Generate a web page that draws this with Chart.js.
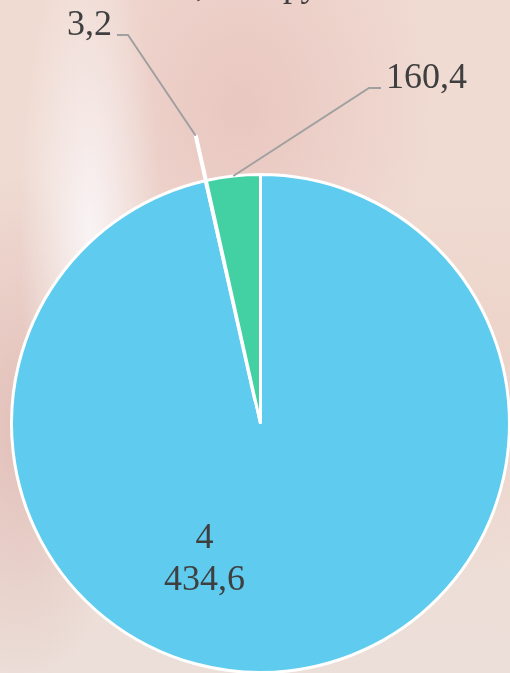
<!DOCTYPE html>
<html>
<head>
<meta charset="utf-8">
<script src="https://cdn.jsdelivr.net/npm/chart.js@4/dist/chart.umd.min.js"></script>
<style>
  html, body { margin: 0; padding: 0; }
  body {
    width: 510px; height: 673px; overflow: hidden;
    background:
      radial-gradient(ellipse 70px 300px at 90px 230px, rgba(250,246,248,0.9), rgba(250,246,248,0) 100%),
      radial-gradient(ellipse 200px 260px at 240px 110px, rgba(228,182,178,0.55), rgba(228,182,178,0) 100%),
      radial-gradient(ellipse 110px 260px at 20px 430px, rgba(216,168,164,0.55), rgba(216,168,164,0) 100%),
      radial-gradient(ellipse 220px 200px at 470px 380px, rgba(234,200,188,0.5), rgba(234,200,188,0) 100%),
      linear-gradient(180deg, #f0dbd2 0%, #efdcd3 60%, #ecdfd9 100%);
  }
  #wrap { position: relative; width: 510px; height: 673px; }
</style>
</head>
<body>
<div id="wrap"><canvas id="pieChart" width="510" height="673"></canvas></div>
<script>
let sliceLabels = ['4 434,6', '3,2', '160,4'];
let sliceValues = [4434.6, 3.2, 160.4];
let sliceColors = ['#5ecbef', '#ffffff', '#43d0a2'];
let sliceOffsets = [0, 92, 0];   // chart.js сдвигает на offset / 2
let sliceBorders = [3, 4, 3];
let titleText = 'Объём платежей, млн руб.';

const fontFamily = '"Liberation Serif", "Times New Roman", serif';
const textColor = '#3f3f3f';

// подписи и выноски
const labelPlugin = {
    id: 'pieLabels',
    afterDatasetsDraw(chart) {
        const ctx = chart.ctx;
        const arcs = chart.getDatasetMeta(0).data;
        ctx.save();
        ctx.font = '36px ' + fontFamily;
        ctx.fillStyle = textColor;

        // заголовок, обрезанный краем картинки
        ctx.textAlign = 'left';
        ctx.textBaseline = 'alphabetic';
        const head = titleText.slice(0, titleText.indexOf('руб'));
        ctx.fillText(titleText, 283 - ctx.measureText(head).width, -4);

        const cx = arcs[0].x, cy = arcs[0].y;

        // большой сектор - подпись внутри
        ctx.textAlign = 'center';
        ctx.fillText('4', cx - 56, cy + 124);
        ctx.fillText(sliceLabels[0].split(' ')[1], cx - 56, cy + 166);

        ctx.strokeStyle = '#a0a0a0';
        ctx.lineWidth = 2;

        // 3,2 - вынесенный сектор
        let a = arcs[1];
        let mid = (a.startAngle + a.endAngle) / 2;
        let r = a.outerRadius + sliceOffsets[1] / 2;
        let px = a.x + Math.cos(mid) * r, py = a.y + Math.sin(mid) * r;
        ctx.beginPath();
        ctx.moveTo(px, py);
        ctx.lineTo(128, 35);
        ctx.lineTo(117, 35);
        ctx.stroke();
        ctx.textAlign = 'right';
        ctx.fillText(sliceLabels[1], 112, 35);

        // 160,4
        a = arcs[2];
        mid = (a.startAngle + a.endAngle) / 2;
        r = a.outerRadius;
        px = a.x + Math.cos(mid) * r;
        py = a.y + Math.sin(mid) * r;
        ctx.beginPath();
        ctx.moveTo(px, py);
        ctx.lineTo(369, 88);
        ctx.lineTo(381, 88);
        ctx.stroke();
        ctx.textAlign = 'left';
        ctx.fillText(sliceLabels[2], 386, 88);

        ctx.restore();
    }
};

document.addEventListener("DOMContentLoaded", function() {
    let ctx = document.getElementById("pieChart").getContext('2d');
    let pieChart = new Chart(ctx, {
        type: 'pie',
        data: {
            labels: sliceLabels,
            datasets: [{
                data: sliceValues,
                backgroundColor: sliceColors,
                borderColor: '#ffffff',
                borderWidth: sliceBorders,
                offset: sliceOffsets,
                hoverOffset: 0
            }]
        },
        options: {
            responsive: false,
            animation: false,
            radius: 249,
            layout: {
                padding: { left: 11, right: 0, top: 174, bottom: 0 }
            },
            plugins: {
                legend: { display: false },
                tooltip: { enabled: false }
            },
            events: []
        },
        plugins: [labelPlugin]
    });
});
</script>
</body>
</html>
